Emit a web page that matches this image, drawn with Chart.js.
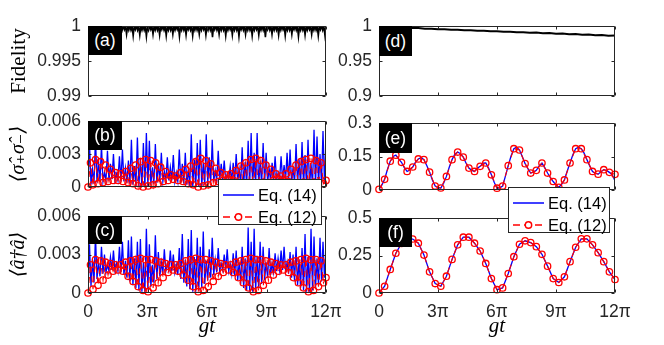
<!DOCTYPE html>
<html><head><meta charset="utf-8">
<script src="https://cdn.jsdelivr.net/npm/chart.js@4/dist/chart.umd.min.js"></script>
<style>
html,body{margin:0;padding:0;background:#fff;}
#wrap{position:relative;width:664px;height:345px;overflow:hidden;background:#fff;}
canvas{position:absolute;left:0;top:0;}
.lbl{position:absolute;background:#000;color:#fff;font:17.5px "Liberation Sans",Arial,sans-serif;display:flex;align-items:center;justify-content:center;}
.leg{position:absolute;background:#fff;border:1px solid #262626;box-sizing:border-box;font:16.5px "Liberation Sans",Arial,sans-serif;color:#000;}
.leg .row{position:absolute;left:0;height:22px;display:flex;align-items:center;white-space:nowrap;}
.leg svg{display:block;margin-right:2px;}
</style></head>
<body>
<div id="wrap">
<canvas id="ca" width="664" height="345"></canvas>
<canvas id="cb" width="664" height="345"></canvas>
<canvas id="cc" width="664" height="345"></canvas>
<canvas id="cd" width="664" height="345"></canvas>
<canvas id="ce" width="664" height="345"></canvas>
<canvas id="cf" width="664" height="345"></canvas>
<div class="lbl" style="left:88px;top:26px;width:34px;height:29px">(a)</div>
<div class="lbl" style="left:88px;top:121px;width:34px;height:29px">(b)</div>
<div class="lbl" style="left:88px;top:216px;width:34px;height:28px">(c)</div>
<div class="lbl" style="left:379px;top:26px;width:33px;height:30px">(d)</div>
<div class="lbl" style="left:379px;top:123px;width:33px;height:30px">(e)</div>
<div class="lbl" style="left:379px;top:218px;width:33px;height:29px">(f)</div>
<div class="leg" style="left:218px;top:179px;width:104px;height:46px">
  <div class="row" style="top:4px"><svg width="37" height="12"><line x1="4" y1="6" x2="35" y2="6" stroke="#0000ff" stroke-width="1.5"/></svg><span>Eq. (14)</span></div>
  <div class="row" style="top:26px"><svg width="37" height="12"><line x1="4" y1="6" x2="35" y2="6" stroke="#ff0000" stroke-width="1.3" stroke-dasharray="7,4"/><circle cx="19.5" cy="6" r="3.2" fill="#fff" stroke="#ff0000" stroke-width="1.4"/></svg><span>Eq. (12)</span></div>
</div>
<div class="leg" style="left:508px;top:187px;width:102px;height:46px">
  <div class="row" style="top:4px"><svg width="37" height="12"><line x1="4" y1="6" x2="35" y2="6" stroke="#0000ff" stroke-width="1.5"/></svg><span>Eq. (14)</span></div>
  <div class="row" style="top:26px"><svg width="37" height="12"><line x1="4" y1="6" x2="35" y2="6" stroke="#ff0000" stroke-width="1.3" stroke-dasharray="7,4"/><circle cx="19.5" cy="6" r="3.2" fill="#fff" stroke="#ff0000" stroke-width="1.4"/></svg><span>Eq. (12)</span></div>
</div>
</div>
<script>
// ---------- tick values / labels ----------
const PI = Math.PI;
const X_MAX = 12 * PI;
const xTickValues = [0, 3 * PI, 6 * PI, 9 * PI, 12 * PI];
const xTickLabels = ['0', '3π', '6π', '9π', '12π'];
const yTicksA = [0.99, 0.995, 1];        const yLabelsA = ['0.99', '0.995', '1'];
const yTicksBC = [0, 0.003, 0.006];      const yLabelsBC = ['0', '0.003', '0.006'];
const yTicksD = [0.9, 0.95, 1];          const yLabelsD = ['0.9', '0.95', '1'];
const yTicksE = [0, 0.15, 0.3];          const yLabelsE = ['0', '0.15', '0.3'];
const yTicksF = [0, 0.25, 0.5];          const yLabelsF = ['0', '0.25', '0.5'];

// ---------- (a) fidelity, weak coupling ----------
const fidelityA = [
1,0.9994,1,0.9994,1,0.9987, 1,0.9994,1,0.9995,1,0.9986, 1,0.9994,1,0.9994,1,0.9988, 1,0.9995,1,0.9994,1,0.9987,
1,0.9994,1,0.9994,1,0.9985, 1,0.9994,1,0.9995,1,0.9988, 1,0.9994,1,0.9994,1,0.9986, 1,0.9995,1,0.9994,1,0.9987,
1,0.9994,1,0.9994,1,0.9985, 1,0.9994,1,0.9995,1,0.9988, 1,0.9994,1,0.9994,1,0.9987, 1,0.9995,1,0.9994,1,0.9986,
1,0.9994,1,0.9994,1,0.9988, 1,0.9994,1,0.9995,1,0.9985, 1,0.9994,1,0.9994,1,0.9987, 1,0.9995,1,0.9994,1,0.9986,
1,0.9994,1,0.9994,1,0.9988, 1,0.9994,1,0.9995,1,0.9987, 1,0.9994,1,0.9994,1,0.9984, 1,0.9995,1,0.9994,1,0.9988,
1,0.9994,1,0.9994,1,0.9986, 1,0.9994,1,0.9995,1,0.9987, 1,0.9994,1,0.9994,1,0.9985, 1,0.9995,1,0.9994,1,0.9988,
1,0.9994,1,0.9994,1,0.9986, 1,0.9994,1,0.9995,1,0.9987, 1,0.9994,1,0.9994,1,0.9984, 1,0.9995,1,0.9994,1,0.9988,
1,0.9994,1,0.9994,1,0.9987, 1,0.9994,1,0.9995,1,0.9986, 1,0.9994,1,0.9994,1,0.9988, 1,0.9995,1,0.9994,1,0.9985,
1,0.9994,1,0.9994,1,0.9987, 1,0.9994,1,0.9995,1,0.9988, 1,0.9994,1,0.9994,1,0.9986, 1,0.9995,1,0.9994,1,0.9987, 1];

// ---------- (d) fidelity, strong coupling ----------
const fidelityD = [0.9997,0.9988,0.9989,0.9979,0.9980,0.9970,0.9971,0.9961,0.9962,0.9953,0.9955,0.9946,0.9947,
0.9938,0.9940,0.9931,0.9933,0.9924,0.9926,0.9917,0.9919,0.9910,0.9912,0.9904,0.9906,0.9897,0.9899,0.9890,
0.9892,0.9883,0.9886,0.9876,0.9879,0.9869,0.9872,0.9862,0.9865];

// ---------- (b) <s+ s->, Eq.(14) blue: troughs and peaks ----------
const sigmaEq14Troughs = [0.0001,0.0002,0.0003,0.0004,0.0005,0.0005,0.0006,0.0006,0.0007,0.0006,
0.0006,0.0005,0.0005,0.0004,0.0003,0.0002,0.0001,0.0001,0.0000,0.0000,
0.0001,0.0002,0.0003,0.0004,0.0005,0.0005,0.0006,0.0006,0.0006,0.0005,
0.0005,0.0004,0.0003,0.0002,0.0001,0.0000,0.0000,0.0001,0.0001,0.0002,
0.0003,0.0004,0.0005,0.0006,0.0006,0.0007,0.0006,0.0006,0.0005,0.0005,
0.0004,0.0003,0.0002,0.0001,0.0000,0.0000,0.0001,0.0001,0.0002,0.0003,
0.0004,0.0005,0.0006,0.0006,0.0007,0.0006,0.0006,0.0005,0.0004,0.0003,
0.0002,0.0001,0.0001,0.0000,0.0000,0.0001,0.0001,0.0002,0.0003,0.0004];
const sigmaEq14Peaks = [0.0040,0.0016,0.0045,0.0024,0.0038,0.0013,0.0033,0.0021,0.0030,0.0012,
0.0028,0.0034,0.0017,0.0024,0.0043,0.0019,0.0045,0.0026,0.0040,0.0049,
0.0042,0.0018,0.0039,0.0022,0.0031,0.0014,0.0027,0.0018,0.0029,0.0013,
0.0034,0.0021,0.0031,0.0016,0.0048,0.0025,0.0040,0.0043,0.0022,0.0048,
0.0027,0.0043,0.0015,0.0033,0.0021,0.0024,0.0012,0.0019,0.0022,0.0030,
0.0016,0.0036,0.0023,0.0042,0.0049,0.0031,0.0049,0.0024,0.0040,0.0031,
0.0017,0.0022,0.0028,0.0013,0.0028,0.0020,0.0031,0.0034,0.0018,0.0039,
0.0025,0.0041,0.0029,0.0043,0.0021,0.0052,0.0046,0.0030,0.0051,0.0040];
// (b) Eq.(12) red circles
const sigmaEq12 = [0.0000,0.0022,0.0002,0.0025,0.0003,0.0023,0.0004,0.0020,0.0005,0.0016,
0.0006,0.0013,0.0006,0.0012,0.0005,0.0014,0.0004,0.0017,0.0003,0.0020,
0.0001,0.0023,0.0000,0.0025,0.0001,0.0024,0.0002,0.0022,0.0003,0.0018,
0.0005,0.0014,0.0006,0.0011,0.0007,0.0010,0.0006,0.0013,0.0005,0.0016,
0.0003,0.0019,0.0002,0.0023,0.0000,0.0026,0.0001,0.0024,0.0002,0.0021,
0.0004,0.0017,0.0005,0.0013,0.0006,0.0011,0.0007,0.0012,0.0006,0.0015,
0.0004,0.0019,0.0002,0.0022,0.0001,0.0025,0.0000,0.0026,0.0001,0.0024,
0.0003,0.0020,0.0004,0.0016,0.0006,0.0012,0.0007,0.0010,0.0006,0.0012,
0.0005,0.0016,0.0003,0.0020,0.0002,0.0023,0.0001,0.0025,0.0000,0.0026,
0.0001,0.0024,0.0002,0.0022,0.0003,0.0006];

// ---------- (c) <a+ a>, Eq.(14) blue ----------
const photonEq14Troughs = [0.0002,0.0005,0.0008,0.0011,0.0013,0.0015,0.0016,0.0017,0.0018,0.0018,
0.0017,0.0016,0.0014,0.0012,0.0009,0.0006,0.0004,0.0002,0.0001,0.0001,
0.0003,0.0005,0.0008,0.0011,0.0013,0.0015,0.0017,0.0018,0.0017,0.0016,
0.0014,0.0011,0.0008,0.0005,0.0003,0.0001,0.0001,0.0002,0.0004,0.0007,
0.0010,0.0012,0.0014,0.0016,0.0017,0.0018,0.0018,0.0017,0.0015,0.0013,
0.0010,0.0007,0.0004,0.0002,0.0001,0.0001,0.0002,0.0004,0.0007,0.0010,
0.0012,0.0014,0.0016,0.0017,0.0018,0.0018,0.0017,0.0015,0.0012,0.0009,
0.0006,0.0004,0.0002,0.0001,0.0001,0.0002,0.0004,0.0006,0.0009,0.0012];
const photonEq14Peaks = [0.0038,0.0026,0.0045,0.0024,0.0036,0.0030,0.0022,0.0028,0.0033,0.0023,
0.0036,0.0040,0.0025,0.0041,0.0044,0.0027,0.0040,0.0042,0.0024,0.0050,
0.0038,0.0022,0.0045,0.0032,0.0024,0.0034,0.0023,0.0033,0.0030,0.0022,
0.0035,0.0046,0.0026,0.0042,0.0049,0.0028,0.0043,0.0036,0.0048,0.0025,
0.0034,0.0043,0.0026,0.0035,0.0023,0.0030,0.0034,0.0023,0.0031,0.0033,
0.0024,0.0036,0.0027,0.0051,0.0040,0.0050,0.0029,0.0040,0.0036,0.0024,
0.0035,0.0023,0.0031,0.0027,0.0033,0.0036,0.0024,0.0032,0.0030,0.0036,
0.0026,0.0035,0.0046,0.0028,0.0050,0.0044,0.0027,0.0043,0.0040,0.0031];
const photonEq12 = [0.0000,0.0022,0.0003,0.0026,0.0006,0.0025,0.0010,0.0024,0.0014,0.0023,
0.0017,0.0022,0.0018,0.0022,0.0017,0.0024,0.0013,0.0025,0.0009,0.0026,
0.0005,0.0027,0.0002,0.0026,0.0001,0.0026,0.0004,0.0025,0.0008,0.0024,
0.0012,0.0023,0.0016,0.0022,0.0018,0.0022,0.0017,0.0023,0.0014,0.0025,
0.0010,0.0026,0.0005,0.0027,0.0001,0.0026,0.0002,0.0026,0.0005,0.0025,
0.0009,0.0024,0.0013,0.0023,0.0016,0.0022,0.0018,0.0022,0.0016,0.0024,
0.0012,0.0025,0.0008,0.0026,0.0004,0.0027,0.0001,0.0026,0.0002,0.0026,
0.0006,0.0025,0.0010,0.0024,0.0014,0.0023,0.0017,0.0022,0.0018,0.0022,
0.0016,0.0024,0.0012,0.0025,0.0008,0.0026,0.0004,0.0027,0.0001,0.0026,
0.0002,0.0026,0.0005,0.0025,0.0008,0.0012];

// ---------- (e) <s+ s->, strong coupling ----------
const sigmaStrongEq14 = [0.003,0.022,0.048,0.092,0.129,0.150,0.156,0.138,0.124,0.100,
0.083,0.090,0.103,0.125,0.139,0.145,0.136,0.110,0.080,0.045,
0.018,0.010,0.009,0.030,0.061,0.102,0.136,0.160,0.170,0.162,
0.147,0.120,0.098,0.088,0.083,0.097,0.106,0.120,0.121,0.098,
0.068,0.035,0.008,0.010,0.018,0.062,0.109,0.152,0.185,0.192,
0.179,0.150,0.118,0.095,0.076,0.080,0.088,0.108,0.121,0.100,
0.076,0.055,0.038,0.022,0.012,0.025,0.045,0.085,0.121,0.158,
0.185,0.192,0.185,0.165,0.136,0.108,0.083,0.074,0.071,0.082,
0.091,0.088,0.079,0.070,0.040];
const sigmaStrongEq12 = [0.003,0.048,0.129,0.156,0.124,0.083,0.103,0.139,0.136,0.080,
0.018,0.009,0.061,0.136,0.170,0.147,0.098,0.083,0.106,0.121,
0.068,0.008,0.018,0.109,0.185,0.179,0.118,0.076,0.088,0.121,
0.076,0.038,0.012,0.045,0.121,0.185,0.185,0.136,0.083,0.071,
0.091,0.079,0.070];

// ---------- (f) <a+ a>, strong coupling ----------
const photonStrongEq12 = [0,0.045,0.157,0.265,0.330,0.365,0.360,0.332,0.253,0.141,
0.063,0.045,0.112,0.224,0.321,0.372,0.372,0.332,0.280,0.197,
0.096,0.022,0.034,0.130,0.242,0.325,0.348,0.336,0.309,0.258,
0.179,0.096,0.070,0.108,0.209,0.305,0.361,0.361,0.321,0.269,
0.209,0.141,0.090];
const photonStrongEq14 = photonStrongEq12;

// ---------- helpers ----------
const SANS = '"Liberation Sans", Arial, sans-serif';
const SERIF = '"Liberation Serif", "DejaVu Serif", serif';
function timeGrid(n) { return Array.from({length: n}, (_, j) => j * X_MAX / (n - 1)); }
function toPoints(vals) { const t = timeGrid(vals.length); return vals.map((v, i) => ({x: t[i], y: v})); }
function interleave(troughs, peaks) { const out = []; for (let k = 0; k < peaks.length; k++) { out.push(troughs[k]); out.push(peaks[k]); } return out; }

const framePlugin = {
  id: 'frame',
  afterDraw(chart) {
    const {ctx, chartArea: a} = chart;
    const sx = chart.scales.x, sy = chart.scales.y;
    const L = Math.round(a.left) + 0.5, R = Math.round(a.right) - 0.5, T = Math.round(a.top) + 0.5, B = Math.round(a.bottom) - 0.5;
    ctx.save();
    ctx.strokeStyle = '#262626'; ctx.lineWidth = 1;
    ctx.beginPath();
    ctx.rect(L, T, R - L, B - T);
    sx.ticks.forEach(t => { const p = Math.round(sx.getPixelForValue(t.value)) + 0.5; ctx.moveTo(p, B); ctx.lineTo(p, B - 3); ctx.moveTo(p, T); ctx.lineTo(p, T + 3); });
    sy.ticks.forEach(t => { const p = Math.round(sy.getPixelForValue(t.value)) + 0.5; ctx.moveTo(L, p); ctx.lineTo(L + 3, p); ctx.moveTo(R, p); ctx.lineTo(R - 3, p); });
    ctx.stroke();
    ctx.restore();
  }
};

function blueSet(vals) {
  return {data: toPoints(vals), borderColor: '#0000ff', borderWidth: 1.3, pointRadius: 0, fill: false, tension: 0};
}
function redSet(vals) {
  return {data: toPoints(vals), borderColor: '#ff0000', borderWidth: 1.1, borderDash: [6, 4], pointRadius: 3.2,
    pointBackgroundColor: 'rgba(0,0,0,0)', pointBorderColor: '#ff0000', pointBorderWidth: 1.3, fill: false, tension: 0, clip: false};
}
function blackSet(vals, w) {
  return {data: toPoints(vals), borderColor: '#000000', borderWidth: w, pointRadius: 0, fill: false, tension: 0};
}

function panel(id, rect, cfg) {
  const padL = cfg.padL;
  const xH = cfg.bottomAxis ? 46 : 0;
  return new Chart(document.getElementById(id), {
    type: 'line',
    data: {datasets: cfg.datasets},
    options: {
      responsive: false, animation: false, devicePixelRatio: 1, events: [],
      layout: {padding: {left: padL, top: rect.t, right: 664 - rect.r, bottom: 345 - rect.b - xH}},
      plugins: {legend: {display: false}, tooltip: {enabled: false}, title: {display: false}},
      scales: {
        x: {
          type: 'linear', min: 0, max: X_MAX,
          grid: {display: false, drawTicks: false}, border: {display: false},
          afterBuildTicks: s => { s.ticks = xTickValues.map(v => ({value: v})); },
          afterFit: s => { s.height = xH; },
          ticks: {display: cfg.bottomAxis, autoSkip: false, maxRotation: 0, minRotation: 0, padding: 9, color: '#262626',
            font: {family: SANS, size: 17.5}, callback: (v, i) => xTickLabels[i]},
          title: {display: cfg.bottomAxis, text: 'gt', padding: 0, color: '#000',
            font: {family: SERIF, size: 21, style: 'italic'}}
        },
        y: {
          type: 'linear', min: cfg.yMin, max: cfg.yMax,
          grid: {display: false, drawTicks: false}, border: {display: false},
          afterBuildTicks: s => { s.ticks = cfg.yTicks.map(v => ({value: v})); },
          afterFit: s => { s.width = rect.l - padL; },
          ticks: {padding: 7, color: '#262626', font: {family: SANS, size: 17.5}, callback: (v, i) => cfg.yLabels[i]},
          title: {display: !!cfg.yTitle, text: cfg.yTitle || '', padding: 0, color: '#000',
            font: {family: SERIF, size: cfg.yTitleSize || 21, style: cfg.yTitleStyle || 'normal'}}
        }
      }
    },
    plugins: [framePlugin]
  });
}

// ---------- build panels ----------
panel('ca', {l: 88, t: 26, r: 326, b: 96}, {
  padL: 7, yMin: 0.99, yMax: 1, yTicks: yTicksA, yLabels: yLabelsA, yTitle: 'Fidelity',
  datasets: [blackSet(fidelityA, 1.6)]
});
panel('cb', {l: 88, t: 121, r: 326, b: 187}, {
  padL: 7, yMin: 0, yMax: 0.006, yTicks: yTicksBC, yLabels: yLabelsBC, yTitle: '⟨σ̂₊σ̂₋⟩', yTitleStyle: 'italic', yTitleSize: 20,
  datasets: [redSet(sigmaEq12), blueSet(interleave(sigmaEq14Troughs, sigmaEq14Peaks))]
});
panel('cc', {l: 88, t: 216, r: 326, b: 293}, {
  padL: 7, yMin: 0, yMax: 0.006, yTicks: yTicksBC, yLabels: yLabelsBC, yTitle: '⟨â†â⟩', yTitleStyle: 'italic', yTitleSize: 20,
  bottomAxis: true,
  datasets: [redSet(photonEq12), blueSet(interleave(photonEq14Troughs, photonEq14Peaks))]
});
panel('cd', {l: 379, t: 26, r: 615, b: 96}, {
  padL: 330, yMin: 0.9, yMax: 1, yTicks: yTicksD, yLabels: yLabelsD,
  datasets: [blackSet(fidelityD, 2)]
});
panel('ce', {l: 379, t: 123, r: 615, b: 190}, {
  padL: 330, yMin: 0, yMax: 0.3, yTicks: yTicksE, yLabels: yLabelsE,
  datasets: [redSet(sigmaStrongEq12), blueSet(sigmaStrongEq14)]
});
panel('cf', {l: 379, t: 218, r: 615, b: 293}, {
  padL: 330, yMin: 0, yMax: 0.5, yTicks: yTicksF, yLabels: yLabelsF,
  bottomAxis: true,
  datasets: [redSet(photonStrongEq12), blueSet(photonStrongEq14)]
});
</script>
</body></html>
